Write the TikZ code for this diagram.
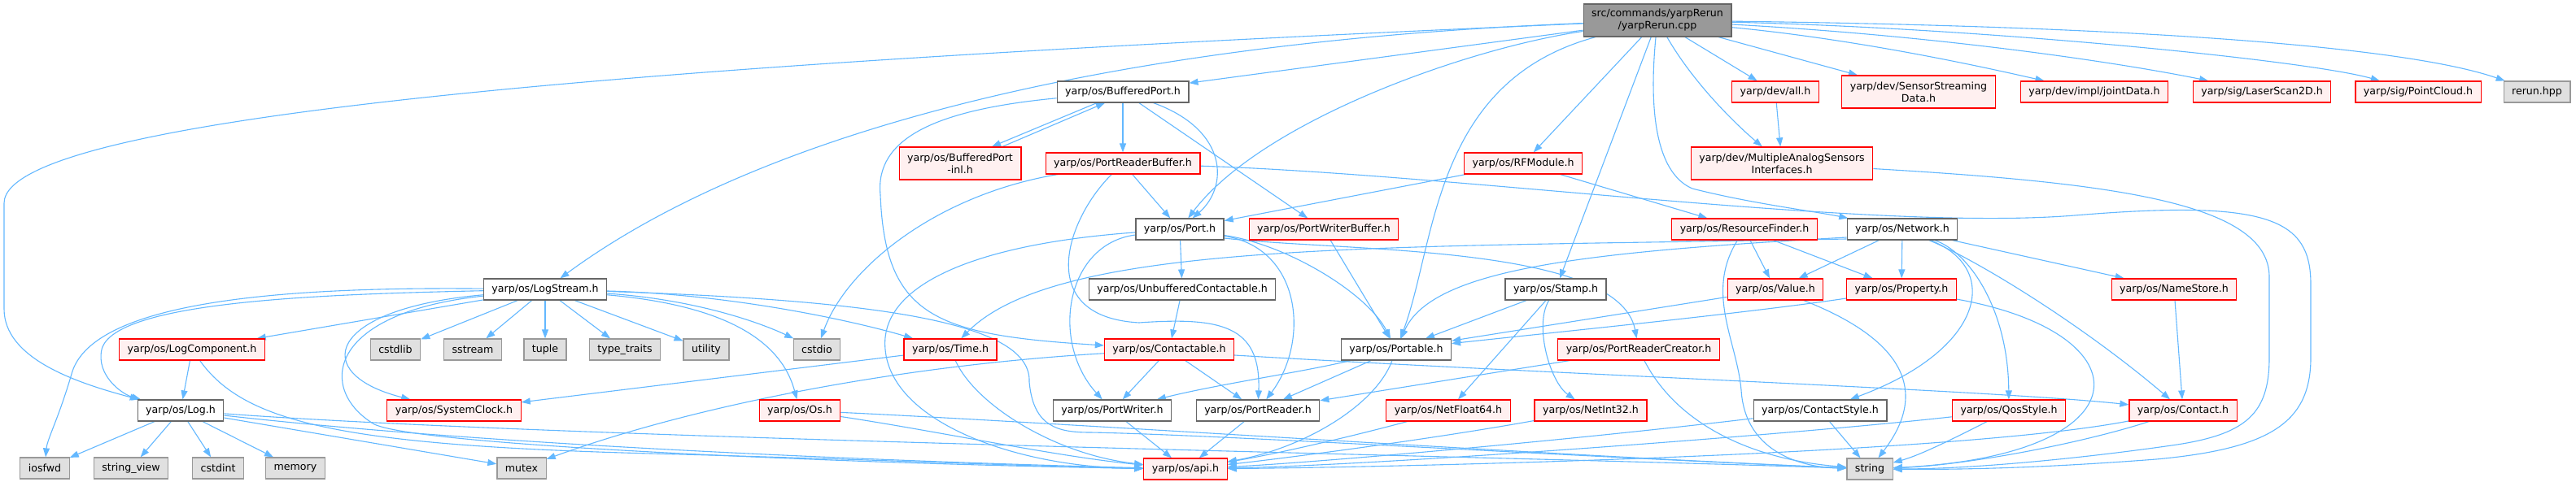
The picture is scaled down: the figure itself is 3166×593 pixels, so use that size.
\documentclass[tikz,border=0pt]{standalone}
\usepackage{fontspec}
\setmainfont{DejaVu Sans}
\usetikzlibrary{arrows.meta,calc,backgrounds}
\definecolor{dgray}{HTML}{666666}
\definecolor{dred}{HTML}{FF0000}
\definecolor{dpink}{HTML}{FFF0F0}
\definecolor{lgray}{HTML}{999999}
\definecolor{sgray}{HTML}{E0E0E0}
\definecolor{mgray}{HTML}{999999}
\definecolor{edgeblue}{HTML}{63B8FF}
\newcommand{\dxf}{\fontsize{12.6pt}{15pt}\selectfont}
\tikzset{
  box/.style={draw, line width=1.2pt, minimum height=26pt, inner xsep=10pt, inner ysep=0pt, font=\dxf, text=black},
  wn/.style={box, draw=dgray, fill=white},
  rn/.style={box, draw=dred, fill=dpink},
  sn/.style={box, draw=lgray, fill=sgray},
  topn/.style={box, draw=dgray, fill=mgray, align=center, minimum height=40pt},
  two/.style={align=center, minimum height=40pt},
  dep/.style={draw=edgeblue, line width=1.1pt, -{Triangle[length=11pt,width=8pt]}},
}
\begin{document}
\begin{tikzpicture}[x=1pt,y=-1pt]
\useasboundingbox (0,0) rectangle (3166,593);
% nodes
\node[topn] (yr) at (2037,25) {src/commands/yarpRerun\\/yarpRerun.cpp};
\node[wn] (bport) at (1380,113) {yarp/os/BufferedPort.h};
\node[rn,two] (bpinl) at (1180,201) {yarp/os/BufferedPort\\-inl.h};
\node[rn] (prb) at (1380,201) {yarp/os/PortReaderBuffer.h};
\node[rn] (rfm) at (1872,201) {yarp/os/RFModule.h};
\node[wn] (port) at (1450,282) {yarp/os/Port.h};
\node[rn] (pwb) at (1627,282) {yarp/os/PortWriterBuffer.h};
\node[rn] (devall) at (2182,113) {yarp/dev/all.h};
\node[rn,two] (ssd) at (2358,113) {yarp/dev/SensorStreaming\\Data.h};
\node[rn] (joint) at (2574,113) {yarp/dev/impl/jointData.h};
\node[rn] (laser) at (2780,113) {yarp/sig/LaserScan2D.h};
\node[rn] (pcl) at (2972,113) {yarp/sig/PointCloud.h};
\node[sn] (rerun) at (3118,113) {rerun.hpp};
\node[rn,two] (masi) at (2190,201) {yarp/dev/MultipleAnalogSensors\\Interfaces.h};
\node[rn] (rf) at (2144,282) {yarp/os/ResourceFinder.h};
\node[wn] (net) at (2338,282) {yarp/os/Network.h};
\node[wn] (logstream) at (670,356) {yarp/os/LogStream.h};
\node[wn] (unbuf) at (1453,356) {yarp/os/UnbufferedContactable.h};
\node[wn] (stamp) at (1912,356) {yarp/os/Stamp.h};
\node[rn] (value) at (2182,356) {yarp/os/Value.h};
\node[rn] (prop) at (2337,356) {yarp/os/Property.h};
\node[rn] (namestore) at (2672,356) {yarp/os/NameStore.h};
\node[rn] (logcomp) at (236,430) {yarp/os/LogComponent.h};
\node[sn] (cstdlib) at (486,430) {cstdlib};
\node[sn] (sstream) at (581,430) {sstream};
\node[sn] (tuple) at (670,430) {tuple};
\node[sn] (typetraits) at (768,430) {type\_traits};
\node[sn] (utility) at (868,430) {utility};
\node[sn] (cstdio) at (1004,430) {cstdio};
\node[rn] (time) at (1168,430) {yarp/os/Time.h};
\node[rn] (contactable) at (1437,430) {yarp/os/Contactable.h};
\node[wn] (portable) at (1716,430) {yarp/os/Portable.h};
\node[rn] (prc) at (2014,430) {yarp/os/PortReaderCreator.h};
\node[wn] (log) at (222,505) {yarp/os/Log.h};
\node[rn] (sysclock) at (558,505) {yarp/os/SystemClock.h};
\node[rn] (os) at (983,505) {yarp/os/Os.h};
\node[wn] (pw) at (1367,505) {yarp/os/PortWriter.h};
\node[wn] (pr) at (1546,505) {yarp/os/PortReader.h};
\node[rn] (nf64) at (1780,505) {yarp/os/NetFloat64.h};
\node[rn] (ni32) at (1955,505) {yarp/os/NetInt32.h};
\node[wn] (cstyle) at (2237,505) {yarp/os/ContactStyle.h};
\node[rn] (qos) at (2469,505) {yarp/os/QosStyle.h};
\node[rn] (contact) at (2683,505) {yarp/os/Contact.h};
\node[sn] (iosfwd) at (55,576) {iosfwd};
\node[sn] (stringview) at (161,576) {string\_view};
\node[sn] (cstdint) at (268,576) {cstdint};
\node[sn] (memory) at (363,576) {memory};
\node[sn] (mutex) at (641,576) {mutex};
\node[rn] (api) at (1457,577) {yarp/os/api.h};
\node[sn] (str) at (2298,577) {string};

\begin{pgfonlayer}{background}
\fill[white] (0,0) rectangle (3166,593);
% top node
\draw[dep] (yr) .. controls (1000,70) and (5,130) .. (5,250) -- (5,380) .. controls (5,440) and (90,470) .. (log);
\draw[dep] (yr) .. controls (1400,50) and (950,150) .. (logstream);
\draw[dep] (yr) -- (bport);
\draw[dep] (yr) .. controls (1800,60) and (1550,150) .. (port);
\draw[dep] (yr) .. controls (1760,100) and (1765,300) .. (portable);
\draw[dep] (yr) -- (rfm);
\draw[dep] (yr) -- (stamp);
\draw[dep] (yr) .. controls (2025,150) and (2040,215) .. (2080,232) .. controls (2150,250) and (2230,260) .. (net);
\draw[dep] (yr) .. controls (2080,100) and (2130,150) .. (masi);
\draw[dep] (yr) -- (devall);
\draw[dep] (yr) -- (ssd);
\draw[dep] (yr) .. controls (2300,50) and (2470,90) .. (joint);
\draw[dep] (yr) .. controls (2400,45) and (2620,80) .. (laser);
\draw[dep] (yr) .. controls (2450,35) and (2840,75) .. (pcl);
\draw[dep] (yr) .. controls (2600,32) and (2950,55) .. (rerun);
% BufferedPort
\draw[dep] ($(bport.south)+(-32,0)$) -- ($(bpinl.north)+(39,0)$);
\draw[dep] ($(bpinl.north)+(52,0)$) -- ($(bport.south)+(-22,0)$);
\draw[dep] (bport) -- (prb);
\draw[dep] (bport) .. controls (1510,160) and (1510,230) .. (port);
\draw[dep] (bport) -- (pwb);
\draw[dep] (bport) .. controls (1150,135) and (1075,170) .. (1082,240) .. controls (1088,390) and (1150,412) .. (contactable);
% PortReaderBuffer
\draw[dep] (prb) -- (port);
\draw[dep] (prb) .. controls (1150,240) and (1040,330) .. (cstdio);
\draw[dep] (prb) .. controls (1310,270) and (1270,390) .. (1400,397) .. controls (1500,390) and (1550,400) .. (pr);
\draw[dep] (prb) .. controls (1800,215) and (2300,285) .. (2550,265) .. controls (2790,245) and (2840,270) .. (2840,350) -- (2840,440) .. controls (2840,520) and (2790,552) .. (2650,565) .. controls (2520,575) and (2420,578) .. (str);
% RFModule
\draw[dep] (rfm) -- (port);
\draw[dep] (rfm) -- (rf);
% Port
\draw[dep] (port) -- (unbuf);
\draw[dep] (port) .. controls (1200,300) and (1080,350) .. (1088,430) .. controls (1096,520) and (1250,575) .. (api);
\draw[dep] (port) .. controls (1310,300) and (1290,420) .. (pw);
\draw[dep] (port) .. controls (1580,300) and (1680,360) .. (portable);
\draw[dep] ($(port.east)+(0,11)$) .. controls (1650,310) and (1990,300) .. (prc);
\draw[dep] (port) .. controls (1600,305) and (1610,420) .. (pr);
\draw[dep] (pwb) -- (portable);
\draw[dep] (unbuf) -- (contactable);
% LogStream
\draw[dep] (logstream) .. controls (400,362) and (140,370) .. (125,430) .. controls (118,462) and (150,485) .. (log);
\draw[dep] (logstream) .. controls (300,352) and (110,380) .. (88,460) .. controls (72,515) and (58,540) .. (iosfwd);
\draw[dep] (logstream) -- (logcomp);
\draw[dep] (logstream) -- (cstdlib);
\draw[dep] (logstream) -- (sstream);
\draw[dep] (logstream) -- (tuple);
\draw[dep] (logstream) -- (typetraits);
\draw[dep] (logstream) -- (utility);
\draw[dep] (logstream) .. controls (850,368) and (930,395) .. (cstdio);
\draw[dep] (logstream) .. controls (900,362) and (1050,395) .. (time);
\draw[dep] (logstream) .. controls (850,372) and (955,400) .. (os);
\draw[dep] (logstream) .. controls (400,380) and (380,460) .. (sysclock);
\draw[dep] (logstream) .. controls (400,385) and (390,480) .. (460,522) .. controls (520,550) and (1100,572) .. (api);
\draw[dep] (logstream) .. controls (1100,370) and (1268,400) .. (1265,470) .. controls (1270,525) and (1300,532) .. (1340,532) .. controls (1500,535) and (1900,560) .. (str);
% LogComponent
\draw[dep] (logcomp) -- (log);
\draw[dep] (logcomp) .. controls (300,520) and (420,548) .. (800,558) .. controls (1100,566) and (1300,575) .. (api);
% Log
\draw[dep] (log) -- (iosfwd);
\draw[dep] (log) -- (stringview);
\draw[dep] (log) -- (cstdint);
\draw[dep] (log) -- (memory);
\draw[dep] (log) -- (mutex);
\draw[dep] (log) .. controls (600,548) and (1100,568) .. (api);
\draw[dep] (log) .. controls (700,540) and (1800,560) .. (str);
% Os, Time
\draw[dep] (os) .. controls (1150,530) and (1300,562) .. (api);
\draw[dep] (os) .. controls (1300,520) and (1900,560) .. (str);
\draw[dep] (time) -- (sysclock);
\draw[dep] (time) .. controls (1200,500) and (1300,560) .. (api);
% Contactable
\draw[dep] (contactable) -- (pw);
\draw[dep] (contactable) -- (pr);
\draw[dep] ($(contactable.east)+(0,7)$) .. controls (1900,460) and (2450,480) .. (contact);
\draw[dep] (contactable) .. controls (1100,450) and (850,500) .. (mutex);
\draw[dep] (pw) -- (api);
\draw[dep] (pr) -- (api);
% Portable
\draw[dep] (portable) -- (pr);
\draw[dep] (portable) .. controls (1600,458) and (1500,472) .. (pw);
\draw[dep] (portable) .. controls (1690,500) and (1600,552) .. (api);
% PortReaderCreator
\draw[dep] (prc) -- (pr);
\draw[dep] (prc) .. controls (2060,520) and (2150,565) .. (str);
% Stamp
\draw[dep] (stamp) -- (portable);
\draw[dep] (stamp) -- (nf64);
\draw[dep] (stamp) .. controls (1885,400) and (1905,470) .. (ni32);
\draw[dep] (nf64) .. controls (1650,540) and (1560,560) .. (api);
\draw[dep] (ni32) .. controls (1750,542) and (1560,566) .. (api);
\draw[dep] (cstyle) .. controls (1900,545) and (1600,570) .. (api);
\draw[dep] (cstyle) -- (str);
% Value, Property
\draw[dep] (value) -- (portable);
\draw[dep] (value) .. controls (2320,410) and (2380,470) .. (str);
\draw[dep] ($(prop.west)+(0,11)$) .. controls (2150,385) and (1900,410) .. (portable);
\draw[dep] (prop) .. controls (2640,410) and (2640,560) .. (str);
% ResourceFinder
\draw[dep] (rf) -- (value);
\draw[dep] (rf) -- (prop);
\draw[dep] (rf) .. controls (2095,360) and (2135,420) .. (2140,480) .. controls (2145,560) and (2220,575) .. (str);
% Network
\draw[dep] ($(net.west)+(0,10)$) .. controls (1950,310) and (1760,330) .. (portable);
\draw[dep] ($(net.west)+(0,12)$) .. controls (1700,305) and (1300,295) .. (time);
\draw[dep] (net) -- (value);
\draw[dep] (net) -- (prop);
\draw[dep] (net) -- (namestore);
\draw[dep] (net) .. controls (2420,310) and (2468,380) .. (qos);
\draw[dep] (net) .. controls (2430,320) and (2560,400) .. (contact);
\draw[dep] (net) .. controls (2460,330) and (2440,430) .. (cstyle);
\draw[dep] (namestore) -- (contact);
% QosStyle, Contact
\draw[dep] (qos) .. controls (2200,535) and (1700,572) .. (api);
\draw[dep] (qos) .. controls (2400,540) and (2360,560) .. (str);
\draw[dep] (contact) .. controls (2400,560) and (1700,575) .. (api);
\draw[dep] (contact) .. controls (2560,545) and (2420,572) .. (str);
% dev
\draw[dep] (devall) -- (masi);
\draw[dep] (masi) .. controls (2600,225) and (2788,250) .. (2789,340) -- (2789,440) .. controls (2789,510) and (2760,535) .. (2669,548) .. controls (2550,565) and (2420,577) .. (str);
\end{pgfonlayer}
\end{tikzpicture}
\end{document}
